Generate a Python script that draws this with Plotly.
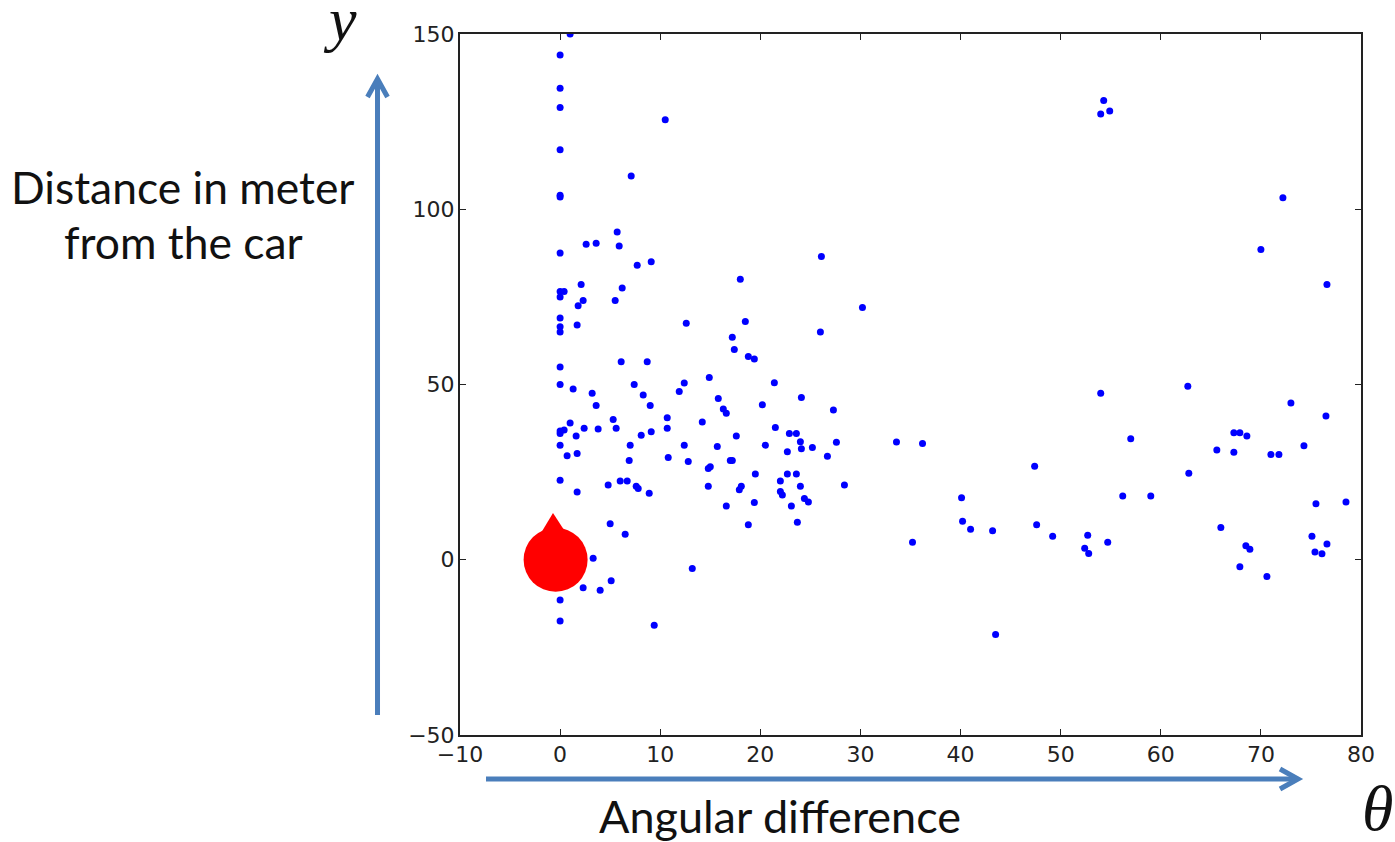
import plotly.graph_objects as go

W, H = 1395, 842
L, R, T, B = 460, 1361, 34, 735

column_theta = [0.0] * 20
column_y = [144, 134.5, 129, 117, 104, 103.5, 87.5, 76.5, 75, 69, 66.5, 65, 55, 50, 36.7, 36, 32.7, 22.7, -11.5, -17.5]

near_points = [
    (1, 150), (10.5, 125.5), (7.1, 109.5), (5.7, 93.5), (5.9, 89.5), (2.6, 90), (3.6, 90.3), (9.1, 85), (7.7, 84),
    (6.2, 77.5), (2.1, 78.5), (0.4, 76.5), (2.3, 74), (1.8, 72.5), (5.5, 74), (1.7, 67), (12.6, 67.5), (18, 80),
    (26.1, 86.5), (30.2, 72), (26, 65), (18.5, 68), (17.2, 63.5), (17.4, 60), (18.8, 58), (19.4, 57.3), (6.1, 56.5),
    (8.7, 56.5), (1.3, 48.7), (3.2, 47.5), (3.6, 44), (7.4, 50), (8.3, 47), (9, 44), (11.9, 48), (12.4, 50.4),
    (14.9, 52), (15.8, 46), (16.3, 43), (16.6, 41.8), (21.4, 50.5), (20.2, 44.2), (24.1, 46.3), (27.3, 42.7),
    (5.3, 40), (5.6, 37.5), (1, 39), (2.4, 37.5), (3.8, 37.3), (0.4, 37), (1.6, 35.3), (1.7, 30.3), (0.7, 29.7),
    (1.7, 19.3), (6.9, 28.3), (7, 32.7), (8.1, 35.5), (9.1, 36.5), (10.7, 40.5), (10.7, 37.5), (10.8, 29.2),
    (12.4, 32.7), (12.8, 28), (14.2, 39.3), (15.7, 32.3), (14.8, 26), (15, 26.5), (14.8, 21), (17.2, 28.3),
    (17, 28.3), (17.6, 35.3), (20.5, 32.7), (21.5, 37.7), (22.9, 36), (23.6, 36), (24, 33.7), (24.1, 31.7),
    (22.7, 30.8), (25.2, 32), (27.6, 33.5), (26.7, 29.5), (28.4, 21.3), (19.5, 24.5), (22.7, 24.5), (23.6, 24.5),
    (22, 22.5), (24, 21), (18.1, 21), (17.9, 20), (22, 19.5), (22.2, 18.5), (24.4, 17.5), (24.8, 16.5), (19.4, 16.3),
    (16.6, 15.3), (23.1, 15.3), (23.7, 10.7), (18.8, 10), (4.8, 21.3), (6, 22.5), (6.7, 22.5), (7.6, 21), (7.8, 20.3),
    (8.9, 19), (5, 10.3), (6.5, 7.3), (3.3, 0.4), (13.2, -2.5), (5.1, -6), (2.3, -8), (4, -8.7), (9.4, -18.7),
]
far_points = [
    (54.3, 131), (54, 127.2), (54.9, 128), (72.2, 103.3), (70, 88.5), (76.6, 78.5), (54, 47.5), (62.7, 49.5),
    (73, 44.7), (76.5, 41), (57, 34.5), (33.6, 33.6), (36.2, 33.2), (67.3, 36.2), (67.9, 36.2), (68.6, 35.3),
    (67.3, 30.7), (65.6, 31.3), (71, 30), (71.8, 30), (74.3, 32.5), (47.4, 26.7), (62.8, 24.7), (40.1, 17.7),
    (56.2, 18.2), (59, 18.2), (75.5, 16), (78.5, 16.5), (40.2, 11), (41, 8.7), (43.2, 8.3), (47.6, 10), (49.2, 6.7),
    (52.7, 7), (52.4, 3.3), (52.8, 1.8), (54.7, 5), (35.2, 5), (66, 9.2), (68.5, 4), (68.9, 3), (75.1, 6.7),
    (76.6, 4.5), (75.4, 2.2), (76.1, 1.7), (67.9, -2), (70.6, -4.8), (43.5, -21.3),
]
car_theta = [-0.45]
car_y = [0]
x_ticks = list(range(-10, 81, 10))
y_ticks = [-50, 0, 50, 100, 150]


def px(x):
    return (x - L) / (R - L)


def py(y):
    return (B - y) / (B - T)


def path(points, close=False):
    s = "M " + " L ".join(f"{px(a):.5f},{py(b):.5f}" for a, b in points)
    return s + (" Z" if close else "")


pts = near_points + far_points
fig = go.Figure()
fig.add_trace(go.Scatter(x=column_theta + [p[0] for p in pts], y=column_y + [p[1] for p in pts], mode="markers",
                         marker=dict(color="#0000ff", size=7, line=dict(width=0)), showlegend=False))
fig.add_trace(go.Scatter(x=car_theta, y=car_y, mode="markers", cliponaxis=False,
                         marker=dict(color="#ff0000", size=64, line=dict(width=0)), showlegend=False))

BLUE = "#4a7ebb"
arrow = dict(type="path", xref="paper", yref="paper", line=dict(color=BLUE, width=5), layer="above")
shapes = [
    dict(arrow, path=path([(377.5, 715), (377.5, 80)])),
    dict(arrow, path=path([(367.5, 97), (377.5, 79), (387.5, 97)])),
    dict(arrow, path=path([(486, 779), (1297, 779)])),
    dict(arrow, path=path([(1280, 769), (1298, 779), (1280, 789)])),
    dict(type="path", xref="paper", yref="paper", path=path([(553, 513), (541, 533), (566, 533)], True),
         fillcolor="#ff0000", line=dict(width=0), layer="above"),
]


def label(text, x, y, size, family="Lato", italic=False):
    return dict(text=f"<i>{text}</i>" if italic else text, xref="paper", yref="paper", x=px(x), y=py(y),
                xanchor="center", yanchor="middle", showarrow=False,
                font=dict(family=family, size=size, color="#111111"))


annotations = [
    label("Distance in meter", 183, 187, 44.4),
    label("from the car", 183, 242, 44.4),
    label("Angular difference", 780, 816, 45),
    label("y", 340, 19, 62, "Liberation Serif", True),
    label("θ", 1377, 808, 64, "Liberation Serif", True),
]

axis = dict(showline=True, linecolor="#222222", linewidth=2, mirror="ticks", ticks="inside", ticklen=6,
            tickwidth=1, tickcolor="#222222", showgrid=False, zeroline=False, ticklabelstandoff=-1,
            tickfont=dict(family="DejaVu Sans", size=22, color="#222222"))
fig.update_layout(
    width=W, height=H, margin=dict(l=L, r=W - R, t=T, b=H - B), paper_bgcolor="white", plot_bgcolor="white",
    xaxis=dict(axis, range=[-10, 80], tickvals=x_ticks, ticktext=[str(v).replace("-", "\u2212") for v in x_ticks]),
    yaxis=dict(axis, range=[-50, 150], tickvals=y_ticks, ticktext=[str(v).replace("-", "\u2212") for v in y_ticks]),
    shapes=shapes, annotations=annotations,
)
fig.write_html("out.html", config={"displayModeBar": False},
               post_script="document.body.style.margin='0';document.body.style.overflow='hidden';")
